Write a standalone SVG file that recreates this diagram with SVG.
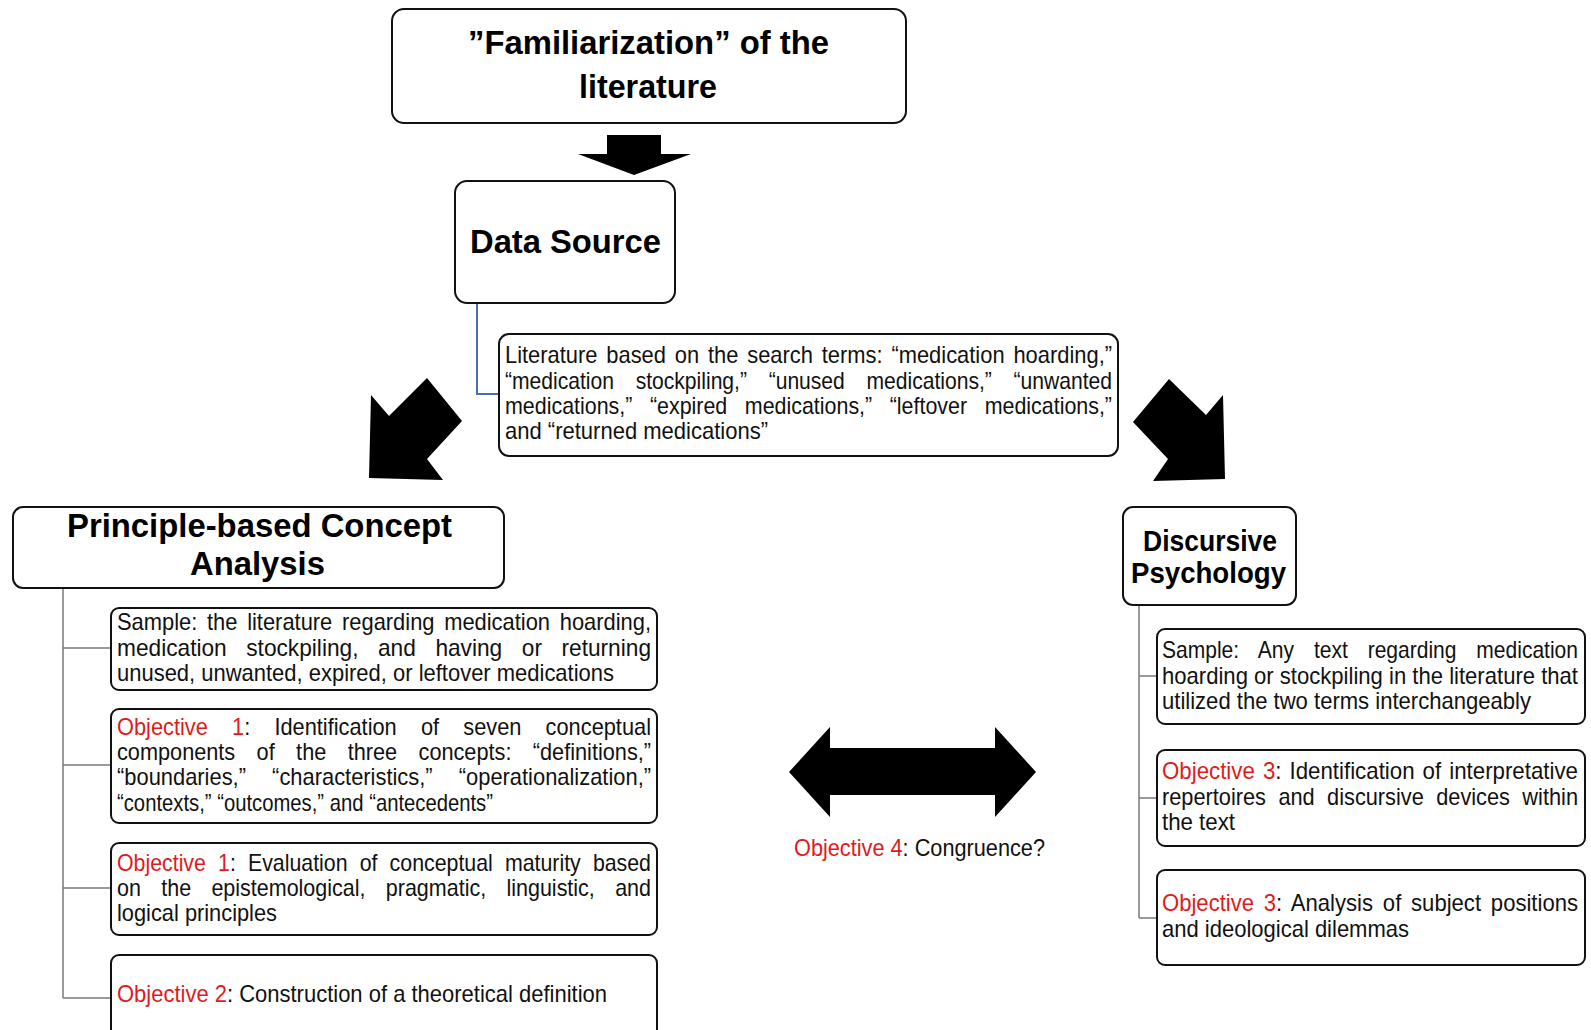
<svg xmlns="http://www.w3.org/2000/svg" width="1591" height="1030" viewBox="0 0 1591 1030">
<style>
.box{fill:#fff;stroke:#111;stroke-width:2}
.h{font-family:"Liberation Sans Narrow","Liberation Sans",Arial,sans-serif;font-weight:bold;font-size:33px;fill:#000}
.t{font-family:"Liberation Sans Narrow","Liberation Sans",Arial,sans-serif;font-size:24px;fill:#111}
.r{fill:#e01b1b}
.tree{fill:none;stroke:#7a7a7a;stroke-width:1.5}
.blue{fill:none;stroke:#4a6cb0;stroke-width:2}
.big{fill:#000}
</style>
<rect width="1591" height="1030" fill="#fff"/>
<g id="connectors">
  <polygon class="big" points="607,135 661,135 661,154 691,154 634,175 578,154 607,154"/>
  <path class="blue" d="M477,303 V394 H499"/>
  <polygon class="big" points="371,395 389,416 427,378 462,421 427,459 443,480 369,478"/>
  <polygon class="big" points="1169,379 1133,422 1168,459 1153,481 1225,479 1223,395 1206,415"/>
  <path class="tree" d="M63,588 V998 M63,648 H111 M63,765 H111 M63,888 H111 M63,998 H111"/>
  <path class="tree" d="M1139,605 V918 M1139,676 H1157 M1139,798 H1157 M1139,918 H1157"/>
  <polygon class="big" points="789,772 830,727 830,748 995,748 995,727 1036,772 995,817 995,795 830,795 830,817"/>
</g>
<g id="familiarization">
  <rect class="box" x="392" y="9" width="514" height="114" rx="12"/>
  <text class="h" x="468" y="54" textLength="361" lengthAdjust="spacingAndGlyphs">”Familiarization” of the</text>
  <text class="h" x="579" y="98" textLength="138" lengthAdjust="spacingAndGlyphs">literature</text>
</g>
<g id="data-source">
  <rect class="box" x="455" y="181" width="220" height="122" rx="12"/>
  <text class="h" x="470" y="253" textLength="191" lengthAdjust="spacingAndGlyphs">Data Source</text>
</g>
<g id="literature-terms">
  <rect class="box" x="499" y="334" width="619" height="122" rx="10"/>
  <text class="t" x="505" y="363" textLength="607" lengthAdjust="spacingAndGlyphs" word-spacing="3">Literature based on the search terms: “medication hoarding,”</text>
  <text class="t" x="505" y="389" textLength="607" lengthAdjust="spacingAndGlyphs" word-spacing="18">“medication stockpiling,” “unused medications,” “unwanted</text>
  <text class="t" x="505" y="414" textLength="607" lengthAdjust="spacingAndGlyphs" word-spacing="13">medications,” “expired medications,” “leftover medications,”</text>
  <text class="t" x="505" y="439" textLength="263" lengthAdjust="spacingAndGlyphs">and “returned medications”</text>
</g>
<g id="pca">
  <rect class="box" x="13" y="507" width="491" height="81" rx="10"/>
  <text class="h" x="67" y="537" textLength="385" lengthAdjust="spacingAndGlyphs">Principle-based Concept</text>
  <text class="h" x="190" y="575" textLength="135" lengthAdjust="spacingAndGlyphs">Analysis</text>
</g>
<g id="pca-sample">
  <rect class="box" x="111" y="608" width="546" height="82" rx="8"/>
  <text class="t" x="117" y="630" textLength="534" lengthAdjust="spacingAndGlyphs" word-spacing="4">Sample: the literature regarding medication hoarding,</text>
  <text class="t" x="117" y="656" textLength="534" lengthAdjust="spacingAndGlyphs" word-spacing="14">medication stockpiling, and having or returning</text>
  <text class="t" x="117" y="681" textLength="497" lengthAdjust="spacingAndGlyphs">unused, unwanted, expired, or leftover medications</text>
</g>
<g id="pca-objective1a">
  <rect class="box" x="111" y="709" width="546" height="114" rx="8"/>
  <text class="t" x="117" y="735" textLength="534" lengthAdjust="spacingAndGlyphs" word-spacing="20"><tspan class="r">Objective 1</tspan>: Identification of seven conceptual</text>
  <text class="t" x="117" y="760" textLength="534" lengthAdjust="spacingAndGlyphs" word-spacing="17">components of the three concepts: “definitions,”</text>
  <text class="t" x="117" y="785" textLength="534" lengthAdjust="spacingAndGlyphs" word-spacing="22">“boundaries,” “characteristics,” “operationalization,”</text>
  <text class="t" x="117" y="811" textLength="376" lengthAdjust="spacingAndGlyphs">“contexts,” “outcomes,” and “antecedents”</text>
</g>
<g id="pca-objective1b">
  <rect class="box" x="111" y="843" width="546" height="92" rx="8"/>
  <text class="t" x="117" y="871" textLength="534" lengthAdjust="spacingAndGlyphs" word-spacing="7"><tspan class="r">Objective 1</tspan>: Evaluation of conceptual maturity based</text>
  <text class="t" x="117" y="896" textLength="534" lengthAdjust="spacingAndGlyphs" word-spacing="16">on the epistemological, pragmatic, linguistic, and</text>
  <text class="t" x="117" y="921" textLength="160" lengthAdjust="spacingAndGlyphs">logical principles</text>
</g>
<g id="pca-objective2">
  <rect class="box" x="111" y="955" width="546" height="100" rx="8"/>
  <text class="t" x="117" y="1002" textLength="490" lengthAdjust="spacingAndGlyphs"><tspan class="r">Objective 2</tspan>: Construction of a theoretical definition</text>
</g>
<g id="discursive-psychology">
  <rect class="box" x="1123" y="507" width="173" height="98" rx="10"/>
  <text class="h" style="font-size:30px" x="1143" y="551" textLength="134" lengthAdjust="spacingAndGlyphs">Discursive</text>
  <text class="h" style="font-size:30px" x="1131" y="583" textLength="155" lengthAdjust="spacingAndGlyphs">Psychology</text>
</g>
<g id="dp-sample">
  <rect class="box" x="1157" y="629" width="428" height="95" rx="8"/>
  <text class="t" x="1162" y="658" textLength="416" lengthAdjust="spacingAndGlyphs" word-spacing="16">Sample: Any text regarding medication</text>
  <text class="t" x="1162" y="684" textLength="416" lengthAdjust="spacingAndGlyphs">hoarding or stockpiling in the literature that</text>
  <text class="t" x="1162" y="709" textLength="369" lengthAdjust="spacingAndGlyphs">utilized the two terms interchangeably</text>
</g>
<g id="dp-objective3a">
  <rect class="box" x="1157" y="750" width="428" height="96" rx="8"/>
  <text class="t" x="1162" y="779" textLength="416" lengthAdjust="spacingAndGlyphs" word-spacing="2"><tspan class="r">Objective 3</tspan>: Identification of interpretative</text>
  <text class="t" x="1162" y="805" textLength="416" lengthAdjust="spacingAndGlyphs" word-spacing="7">repertoires and discursive devices within</text>
  <text class="t" x="1162" y="830" textLength="73" lengthAdjust="spacingAndGlyphs">the text</text>
</g>
<g id="dp-objective3b">
  <rect class="box" x="1157" y="870" width="428" height="95" rx="8"/>
  <text class="t" x="1162" y="911" textLength="416" lengthAdjust="spacingAndGlyphs" word-spacing="4"><tspan class="r">Objective 3</tspan>: Analysis of subject positions</text>
  <text class="t" x="1162" y="937" textLength="247" lengthAdjust="spacingAndGlyphs">and ideological dilemmas</text>
</g>
<g id="objective4">
  <text class="t" x="794" y="856" textLength="251" lengthAdjust="spacingAndGlyphs"><tspan class="r">Objective 4</tspan>: Congruence?</text>
</g>
</svg>
